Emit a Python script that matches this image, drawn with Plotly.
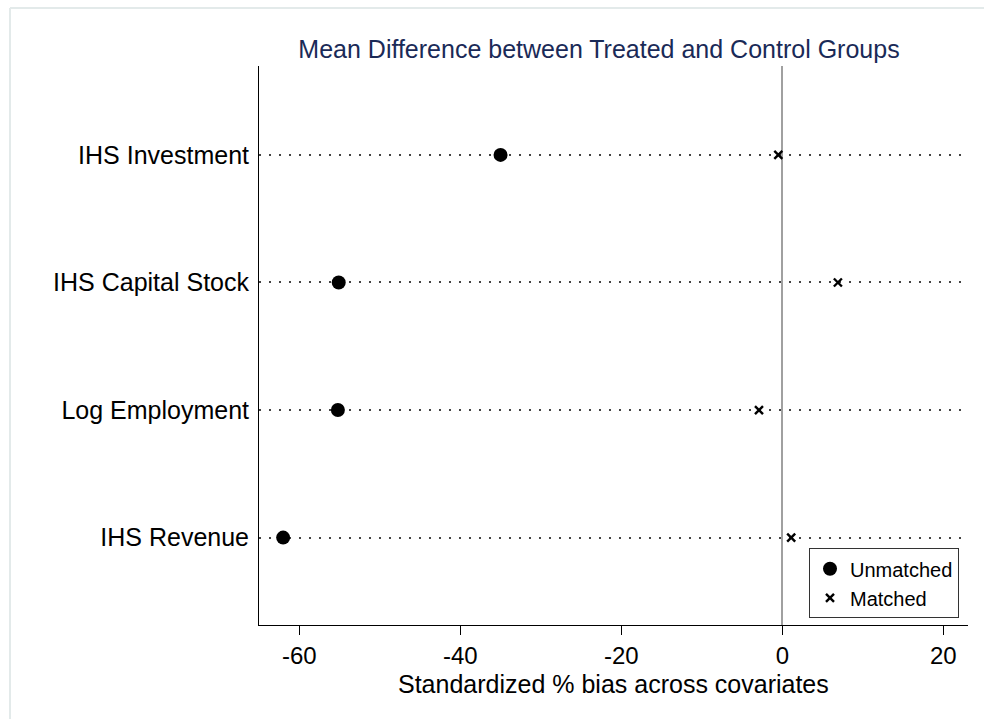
import plotly.graph_objects as go

# Covariates (top to bottom) and standardized % bias before/after matching
covariates = ["IHS Investment", "IHS Capital Stock", "Log Employment", "IHS Revenue"]
unmatched = [-35.0, -55.1, -55.2, -62.0]
matched = [-0.5, 6.9, -2.9, 1.1]
x_ticks = [-60, -40, -20, 0, 20]

# numeric row positions: first covariate at top
rows = [len(covariates) - i for i in range(len(covariates))]

W, H = 984, 719
ML, MR, MT, MB = 259, 16, 66, 94
pw, ph = W - ML - MR, H - MT - MB

FONT = "Liberation Sans, Arial, sans-serif"

fig = go.Figure()
fig.add_trace(go.Scatter(
    x=unmatched, y=rows, mode="markers", name="Unmatched",
    marker=dict(symbol="circle", size=14, color="black"),
))
fig.add_trace(go.Scatter(
    x=matched, y=rows, mode="markers", name="Matched",
    marker=dict(symbol="x-thin", size=8, color="black",
                line=dict(color="black", width=2.4)),
))

# light outer frame of the graph region
fx0 = (10 - ML) / pw
fy1 = 1 + (MT - 8) / ph
fig.add_shape(type="line", xref="paper", yref="paper",
              x0=fx0, x1=fx0, y0=-0.5, y1=fy1,
              line=dict(color="#e3eaea", width=2), layer="below")
fig.add_shape(type="line", xref="paper", yref="paper",
              x0=fx0, x1=1.5, y0=fy1, y1=fy1,
              line=dict(color="#e3eaea", width=2), layer="below")

# x-axis title
fig.add_annotation(text="Standardized % bias across covariates",
                   xref="paper", yref="paper", x=0.5, xanchor="center",
                   y=-(684 - (MT + ph)) / ph, yanchor="middle",
                   showarrow=False, font=dict(size=25, family=FONT, color="black"))

fig.update_layout(
    width=W, height=H,
    margin=dict(l=ML, r=MR, t=MT, b=MB, pad=0),
    paper_bgcolor="white", plot_bgcolor="white",
    font=dict(family=FONT, color="black"),
    title=dict(text="Mean Difference between Treated and Control Groups",
               x=(599 - ML) / pw, xref="paper", xanchor="center",
               y=1 - 49 / H, yanchor="middle",
               font=dict(size=25, color="#1a2a57", family=FONT)),
    showlegend=True,
    legend=dict(x=(959 - ML) / pw, xanchor="right",
                y=0.012, yanchor="bottom",
                bordercolor="#333333", borderwidth=1, bgcolor="white",
                font=dict(size=20, family=FONT),
                tracegroupgap=4, itemwidth=30),
    xaxis=dict(range=[-65.0, 23.06], tickvals=x_ticks,
               ticktext=[str(v) for v in x_ticks],
               showgrid=False, zeroline=True, zerolinecolor="#a0a0a0",
               zerolinewidth=2, showline=True, linecolor="black",
               linewidth=1, ticks="outside", ticklen=9, tickcolor="black",
               tickfont=dict(size=24), mirror=False),
    yaxis=dict(range=[0.315, 4.697], tickvals=rows, ticktext=covariates,
               showgrid=True, gridcolor="#444444", griddash="2px,8px",
               gridwidth=1.5, zeroline=False, showline=True,
               linecolor="black", linewidth=1, ticks="",
               ticklabelstandoff=4, tickfont=dict(size=25)),
)

fig.write_html("out.html")
